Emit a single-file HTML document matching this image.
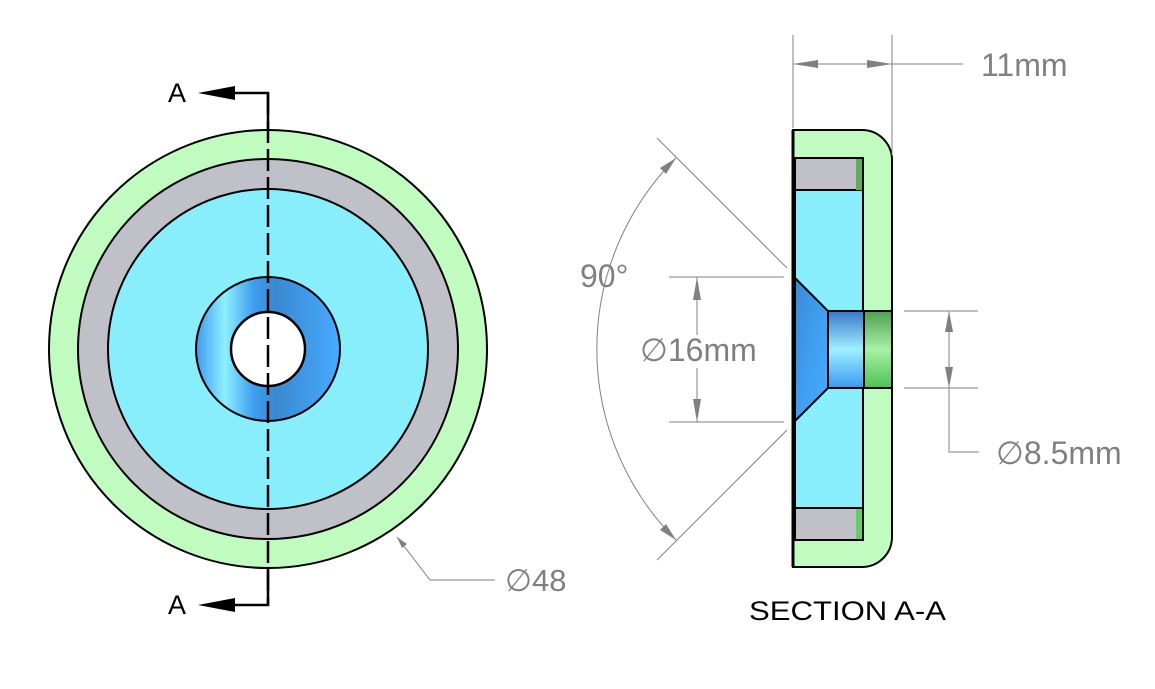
<!DOCTYPE html>
<html><head><meta charset="utf-8"><style>
html,body{margin:0;padding:0;background:#fff;}
svg{display:block;}
text{font-family:"Liberation Sans",sans-serif;}
</style></head><body>
<svg width="1155" height="689" viewBox="0 0 1155 689" xmlns="http://www.w3.org/2000/svg">
<defs>
<linearGradient id="cs" x1="0" y1="0" x2="1" y2="1">
<stop offset="0" stop-color="#3a8ad8"/><stop offset="0.5" stop-color="#3f9ef0"/><stop offset="1" stop-color="#48aaff"/>
</linearGradient>
<linearGradient id="hb" x1="0" y1="0" x2="0" y2="1">
<stop offset="0" stop-color="#3a78c8"/><stop offset="0.5" stop-color="#9ef0ff"/><stop offset="1" stop-color="#3a98f0"/>
</linearGradient>
<linearGradient id="hg" x1="0" y1="0" x2="0" y2="1">
<stop offset="0" stop-color="#4fa050"/><stop offset="0.5" stop-color="#a8f0a8"/><stop offset="1" stop-color="#4fc050"/>
</linearGradient>
<linearGradient id="ring" x1="0" y1="0" x2="1" y2="0">
<stop offset="0" stop-color="#3f9af0"/><stop offset="0.2" stop-color="#8ef0ff"/><stop offset="0.4" stop-color="#3f9ef0"/><stop offset="0.55" stop-color="#3a88d0"/><stop offset="1" stop-color="#48aaff"/>
</linearGradient>
</defs>

<!-- Left view -->
<circle cx="268" cy="349" r="219" fill="#c0fcc0" stroke="#000" stroke-width="2"/>
<circle cx="268" cy="349" r="190" fill="#c0c0c8" stroke="#000" stroke-width="2"/>
<circle cx="268" cy="349" r="160" fill="#88eefc" stroke="#000" stroke-width="2"/>
<circle cx="268" cy="349" r="72" fill="url(#ring)" stroke="#000" stroke-width="2"/>
<circle cx="268" cy="349" r="37" fill="#fff" stroke="#000" stroke-width="2.5"/>
<line x1="268" y1="93" x2="268" y2="605" stroke="#000" stroke-width="2.5" stroke-dasharray="22,6"/>
<polyline points="235,93 268,93 268,130" fill="none" stroke="#000" stroke-width="2.5"/>
<polyline points="235,605 268,605 268,570" fill="none" stroke="#000" stroke-width="2.5"/>
<polygon points="198,93 235,86 235,100" fill="#000"/>
<polygon points="198,605 235,598 235,612" fill="#000"/>
<text x="168" y="102" font-size="27">A</text>
<text x="168" y="614" font-size="27">A</text>

<!-- Ø48 leader -->
<polyline points="397,537 430,580 495,580" fill="none" stroke="#808080" stroke-width="1"/>
<polygon points="397,537 407,544 402,548" fill="#808080"/>
<text x="505" y="591" font-size="31" fill="#808080">∅48</text>

<!-- Section view -->
<path d="M793,130 L862,130 A30,30 0 0 1 892,160 L892,537 A30,30 0 0 1 862,567 L793,567 Z" fill="#c0fcc0" stroke="#000" stroke-width="2"/>
<rect x="795" y="158" width="68" height="382" fill="#88eefc" stroke="#000" stroke-width="2"/>
<path d="M795,158 L857,158 L863,164 L863,190 L795,190 Z" fill="#c0c0c8" stroke="#000" stroke-width="2"/>
<rect x="856" y="159" width="7" height="31" fill="#58b058"/>
<path d="M795,508 L863,508 L863,534 L857,540 L795,540 Z" fill="#c0c0c8" stroke="#000" stroke-width="2"/>
<rect x="856" y="509" width="7" height="30" fill="#60d060"/>
<line x1="863" y1="158" x2="863" y2="540" stroke="#000" stroke-width="2"/>
<polygon points="795,278 828,311 828,388 795,421" fill="url(#cs)" stroke="#000" stroke-width="2"/>
<rect x="828" y="311" width="36" height="77" fill="url(#hb)" stroke="#000" stroke-width="2"/>
<rect x="864" y="311" width="28" height="77" fill="url(#hg)" stroke="#000" stroke-width="2"/>
<line x1="793" y1="130" x2="793" y2="567" stroke="#000" stroke-width="3"/>

<g stroke="#808080" stroke-width="1" fill="none">
<line x1="793" y1="35" x2="793" y2="128"/>
<line x1="892" y1="35" x2="892" y2="155"/>
<line x1="793" y1="64" x2="963" y2="64"/>
<line x1="657" y1="138" x2="787" y2="268"/>
<line x1="657" y1="560" x2="787" y2="430"/>
<path d="M676,158 A270,270 0 0 0 676,540"/>
<line x1="669" y1="277" x2="784" y2="277"/>
<line x1="669" y1="422" x2="784" y2="422"/>
<line x1="697" y1="277" x2="697" y2="335"/>
<line x1="697" y1="368" x2="697" y2="422"/>
<line x1="904" y1="311" x2="978" y2="311"/>
<line x1="904" y1="388" x2="978" y2="388"/>
<polyline points="949,311 949,452 979,452"/>
</g>
<g fill="#808080">
<polygon points="793,64 818,60 818,68"/>
<polygon points="892,64 867,60 867,68"/>
<polygon points="697,277 693,300 701,300"/>
<polygon points="697,422 693,399 701,399"/>
<polygon points="949,311 945,332 953,332"/>
<polygon points="949,388 945,367 953,367"/>
<polygon points="676,158 660,168 666,174"/>
<polygon points="676,540 660,530 666,524"/>
</g>
<text x="981" y="76" font-size="32" fill="#808080">11mm</text>
<text x="580" y="287" font-size="32" fill="#808080">90°</text>
<text x="640" y="361" font-size="32" fill="#808080">∅16mm</text>
<text x="996" y="464" font-size="32" fill="#808080">∅8.5mm</text>
<text x="749" y="620" font-size="27" fill="#000" textLength="197" lengthAdjust="spacingAndGlyphs">SECTION A-A</text>
</svg>
</body></html>
